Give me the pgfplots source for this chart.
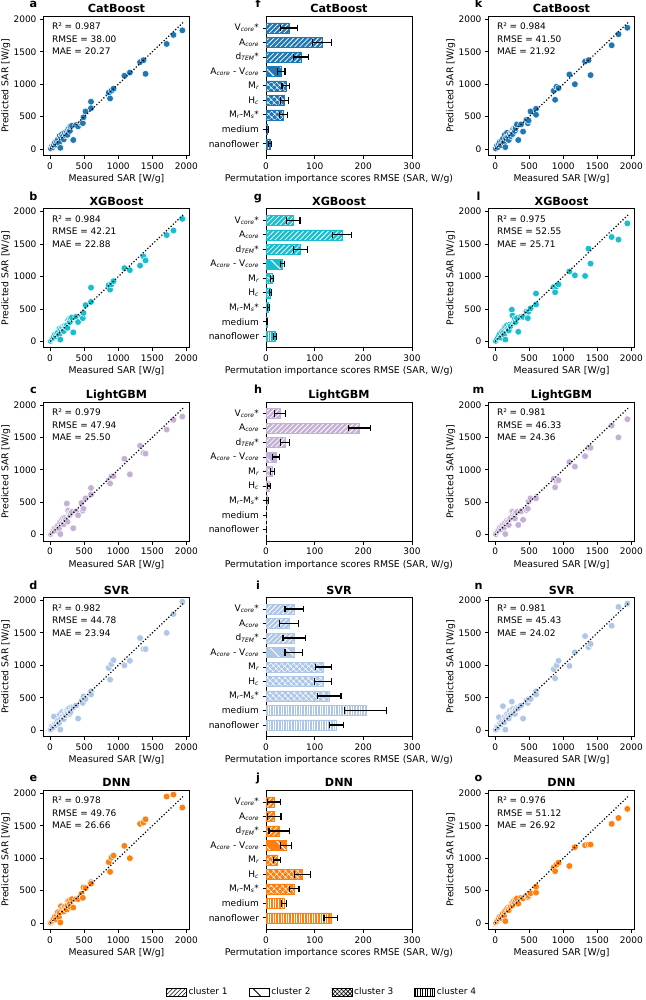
\documentclass[border=0pt]{standalone}
\usepackage{fontspec}
\setmainfont{DejaVu Sans}
\usepackage{pgfplots}
\pgfplotsset{compat=1.18}
\usepackage{pgfplotstable}
\usetikzlibrary{patterns.meta}

\definecolor{cb}{HTML}{1F77B4}
\definecolor{xg}{HTML}{17BECF}
\definecolor{lg}{HTML}{C5B0D5}
\definecolor{sv}{HTML}{AEC7E8}
\definecolor{dn}{HTML}{FF7F0E}

\newcommand{\kf}{\fontsize{9}{10.5}\selectfont}
\newcommand{\nf}{\fontsize{9.3}{11}\selectfont}
\newcommand{\tf}{\bfseries\fontsize{11.2}{13}\selectfont}

\pgfplotstableread{
x    a    b    c    d    e    k    l    m    n    o
10   10   10   10   10   10   10   10   10   10   10
25   40   35   30   60   30   50   40   40   50   30
40   30   50   50   40   50   30   60   60   40   50
55   60   70   80   210  70   80   90   80   200  70
70   100  110  100  100  100  110  120  110  110  100
85   70   80   70   80   60   60   60   80   90   80
100  120  130  110  120  120  130  150  120  130  120
115  150  140  140  150  170  160  130  160  370  150
130  90   100  90   110  90   100  100  110  120  110
140  200  200  190  240  160  220  220  180  200  180
150  20   30   10   10   10   30   30   10   10   30
160  180  190  200  180  260  170  230  200  180  200
175  230  220  240  280  200  250  250  220  250  220
190  200  210  250  220  230  190  200  200  220  240
200  150  160  160  170  180  140  170  150  180  200
215  250  240  260  260  250  230  260  240  300  250
230  210  230  230  230  220  200  240  260  240  260
245  260  250  480  300  210  250  490  360  440  300
255  220  210  200  280  280  230  400  350  300  280
265  300  330  370  330  340  310  280  300  330  330
280  330  350  330  340  340  300  300  280  280  350
290  280  300  300  250  300  280  350  250  250  320
300  350  360  320  280  250  320  300  340  320  360
320  360  370  350  360  370  380  360  350  350  380
340  140  140  100  350  240  140  150  150  340  300
380  370  380  360  380  370  380  380  360  380  390
410  350  300  300  180  370  270  380  230  180  380
460  400  380  490  450  450  450  460  380  460  420
480  400  360  370  420  390  400  360  400  420  400
490  490  440  400  520  550  440  460  510  480  420
520  580  560  560  480  540  580  510  560  480  460
600  730  830  720  600  630  620  740  580  600  470
600  630  610  620  550  610  530  570  560  550  560
860  870  870  840  960  940  900  840  860  940  860
880  780  800  790  780  790  760  760  730  800  800
900  900  880  900  1020 1010 960  850  830  1000 900
930  930  930  900  1080 1040 940  880  840  1070 930
1090 1130 1130 1170 1000 1190 1150 1080 1120 990  880
1170 1180 1100 930  1070 1000 1000 1020 1050 1200 1170
1320 1340 1170 1370 1420 1530 1350 1010 1210 1450 1200
1370 1370 1310 1260 1250 1550 1370 1430 1340 1280 1210
1400 1160 1250 1250 1250 1600 1140 1200 1340 1330 1210
1710 1620 1640 1620 1500 1950 1600 1610 1680 1610 1530
1810 1760 1710 1770 1790 1980 1770 1570 1500 1900 1620
1940 1830 1890 1820 1980 1780 1870 1820 1780 1950 1760
}\sardata

% permutation importance: y = feature index, val = mean, err = std, lo/hi = error bar ends, cl = cluster
\pgfplotstableread{
y val err lo hi cl
0 47 18 29 65 1
1 115 19 96 134 1
2 72 15 57 87 1
3 31 8 23 39 2
4 41 8 33 49 3
5 38 8 30 46 3
6 36 8 28 44 3
7 3 2 1 5 4
8 8 3 5 11 4
}\impCB
\pgfplotstableread{
y val err lo hi cl
0 56 14 42 70 1
1 156 20 136 176 1
2 71 15 56 86 1
3 34 4 30 38 2
4 12 3 9 15 3
5 9 2 7 11 3
6 5 2 3 7 3
7 1.5 1 0.5 2.5 4
8 18 3 15 21 4
}\impXG
\pgfplotstableread{
y val err lo hi cl
0 29 11 18 40 1
1 192 23 169 215 1
2 39 9 30 48 1
3 20 7 13 27 2
4 13 4 9 17 3
5 6 3 3 9 3
6 3 1.5 1.5 4.5 3
7 0.5 0.3 0.2 0.8 4
8 0.5 0.3 0.2 0.8 4
}\impLG
\pgfplotstableread{
y val err lo hi cl
0 58 19 39 77 1
1 47 20 27 67 1
2 58 23 35 81 1
3 57 18 39 75 2
4 118 17 101 135 3
5 117 17 100 134 3
6 130 24 106 154 3
7 205 43 162 248 4
8 145 15 130 160 4
}\impSV
\pgfplotstableread{
y val err lo hi cl
0 16 13 3 29 1
1 17 14 3 31 1
2 27 21 6 48 1
3 41 11 30 52 2
4 23 7 16 30 3
5 75 16 59 91 3
6 58 10 48 68 3
7 37 5 32 42 4
8 133 14 119 147 4
}\impDN

\pgfplotsset{
  every tick label/.append style={font=\kf},
  every axis label/.append style={font=\nf},
  every axis title/.style={at={(0.5,1)}, anchor=base, yshift=3.5pt, font=\tf},
  every axis x label/.style={at={(axis description cs:0.5,0)}, anchor=base, yshift=-26pt, font=\nf},
  base/.style={scale only axis, width=146pt, height=139pt, anchor=north west,
    clip mode=individual,
    axis line style={black, line width=0.8pt},
    every tick/.style={black, line width=0.8pt},
    tick align=outside, tick pos=left, major tick length=3.5pt,
    /pgf/number format/assume math mode=true,
    /pgf/number format/1000 sep={}},
  sc/.style={base, xmin=-97, xmax=2045, ymin=-97, ymax=2045,
    xtick={0,500,1000,1500,2000}, ytick={0,500,1000,1500,2000},
    xlabel={Measured SAR [W/g]}, ylabel={Predicted SAR [W/g]},
    every axis y label/.style={at={(axis description cs:-0.258,0.5)}, anchor=center, rotate=90, font=\nf}},
  br/.style={base, xmin=0, xmax=300, xtick={0,100,200,300},
    ymin=-0.8, ymax=8.8, y dir=reverse, ytick={0,1,2,3,4,5,6,7,8},
    yticklabels={V\textsubscript{\itshape core}*, A\textsubscript{\itshape core},
      d\textsubscript{\itshape TEM}*, A\textsubscript{\itshape core} - V\textsubscript{\itshape core},
      M\textsubscript{\itshape r}, H\textsubscript{\itshape c},
      M\textsubscript{\itshape r}-M\textsubscript{\itshape s}*, medium, nanoflower},
    xlabel={Permutation importance scores RMSE (SAR, W/g)}},
  bb/.style={xbar, bar shift=0pt, bar width=10pt, fill=#1, draw=#1, line width=0.2pt},
  c1/.style={bb=#1, postaction={pattern={Lines[angle=45,distance=3.5pt,line width=0.8pt]}, pattern color=white}},
  c2/.style={bb=#1, postaction={pattern={Lines[angle=-45,distance=11pt,line width=1pt]}, pattern color=white}},
  c3/.style={bb=#1, postaction={pattern={Hatch[angle=45,distance=4pt,line width=0.6pt]}, pattern color=white}},
  c4/.style={bb=#1, postaction={pattern={Lines[angle=90,distance=2.6pt,line width=0.6pt]}, pattern color=white}},
  cap/.style={only marks, mark=|, mark size=3.3pt, black, mark options={black, line width=1.2pt}},
}

\newcommand{\scat}[9]{%
\begin{axis}[sc, at={(#1pt,-#2pt)}, title={#4}]
\addplot[only marks, mark=*, mark size=3.4pt, mark options={fill=#5, draw=white, line width=0.5pt}] table[x=x, y=#6] {\sardata};
\addplot[black, line width=1.2pt, dash pattern=on 1.2pt off 2pt] coordinates {(0,0) (1950,1950)};
\node[anchor=north west, inner sep=0pt, align=left, font=\fontsize{9}{12.5}\selectfont] at (axis description cs:0.057,0.952) {R² = #7\\RMSE = #8\\MAE = #9};
\node[anchor=base, xshift=-10pt, yshift=8.5pt, font=\tf] at (axis description cs:0,1) {#3};
\end{axis}}

\newcommand{\barax}[6]{%
\begin{axis}[br, at={(#1pt,-#2pt)}, title={#4}]
\addplot[c1=#5, restrict expr to domain={\thisrow{cl}}{1:1}] table[x=val, y=y] {#6};
\addplot[c2=#5, restrict expr to domain={\thisrow{cl}}{2:2}] table[x=val, y=y] {#6};
\addplot[c3=#5, restrict expr to domain={\thisrow{cl}}{3:3}] table[x=val, y=y] {#6};
\addplot[c4=#5, restrict expr to domain={\thisrow{cl}}{4:4}] table[x=val, y=y] {#6};
\addplot[draw=none, mark=none, error bars/x dir=both, error bars/x explicit,
  error bars/error mark=none, error bars/error bar style={draw=black, line width=1.2pt}]
  table[x=val, y=y, x error=err] {#6};
\addplot[cap] table[x=lo, y=y] {#6};
\addplot[cap] table[x=hi, y=y] {#6};
\node[anchor=base, xshift=-8pt, yshift=8.5pt, font=\tf] at (axis description cs:0,1) {#3};
\end{axis}}

\begin{document}
\begin{tikzpicture}
\useasboundingbox (0,0) rectangle (645pt,-1000pt);

\scat{43.5}{16.4}{a}{CatBoost}{cb}{a}{0.987}{38.00}{20.27}
\scat{43.5}{208.8}{b}{XGBoost}{xg}{b}{0.984}{42.21}{22.88}
\scat{43.5}{402}{c}{LightGBM}{lg}{c}{0.979}{47.94}{25.50}
\scat{43.5}{597.5}{d}{SVR}{sv}{d}{0.982}{44.78}{23.94}
\scat{43.5}{790.4}{e}{DNN}{dn}{e}{0.978}{49.76}{26.66}

\scat{488.5}{16.4}{k}{CatBoost}{cb}{k}{0.984}{41.50}{21.92}
\scat{488.5}{208.8}{l}{XGBoost}{xg}{l}{0.975}{52.55}{25.71}
\scat{488.5}{402}{m}{LightGBM}{lg}{m}{0.981}{46.33}{24.36}
\scat{488.5}{597.5}{n}{SVR}{sv}{n}{0.981}{45.43}{24.02}
\scat{488.5}{790.4}{o}{DNN}{dn}{o}{0.976}{51.12}{26.92}

\barax{266}{16.4}{f}{CatBoost}{cb}{\impCB}
\barax{266}{208.8}{g}{XGBoost}{xg}{\impXG}
\barax{266}{402}{h}{LightGBM}{lg}{\impLG}
\barax{266}{597.5}{i}{SVR}{sv}{\impSV}
\barax{266}{790.4}{j}{DNN}{dn}{\impDN}

\begin{axis}[hide axis, scale only axis, width=10pt, height=10pt,
  xmin=0, xmax=1, ymin=0, ymax=1, at={(322pt,-992pt)}, anchor=center,
  legend columns=4,
  legend style={at={(0.5,0.5)}, anchor=center, draw=none, fill=none,
    font=\fontsize{9}{10.5}\selectfont,
    /tikz/every even column/.append style={column sep=19pt}},
  legend image code/.code={\draw[#1, draw=black, line width=0.6pt] (0pt,-4pt) rectangle (20pt,4pt);}]
\addlegendimage{pattern={Lines[angle=45,distance=3pt,line width=0.6pt]}, pattern color=black}
\addlegendentry{cluster 1}
\addlegendimage{pattern={Lines[angle=-45,distance=11pt,line width=0.8pt]}, pattern color=black}
\addlegendentry{cluster 2}
\addlegendimage{pattern={Hatch[angle=45,distance=3pt,line width=0.6pt]}, pattern color=black}
\addlegendentry{cluster 3}
\addlegendimage{pattern={Lines[angle=90,distance=2.5pt,line width=0.6pt]}, pattern color=black}
\addlegendentry{cluster 4}
\end{axis}
\end{tikzpicture}
\end{document}
